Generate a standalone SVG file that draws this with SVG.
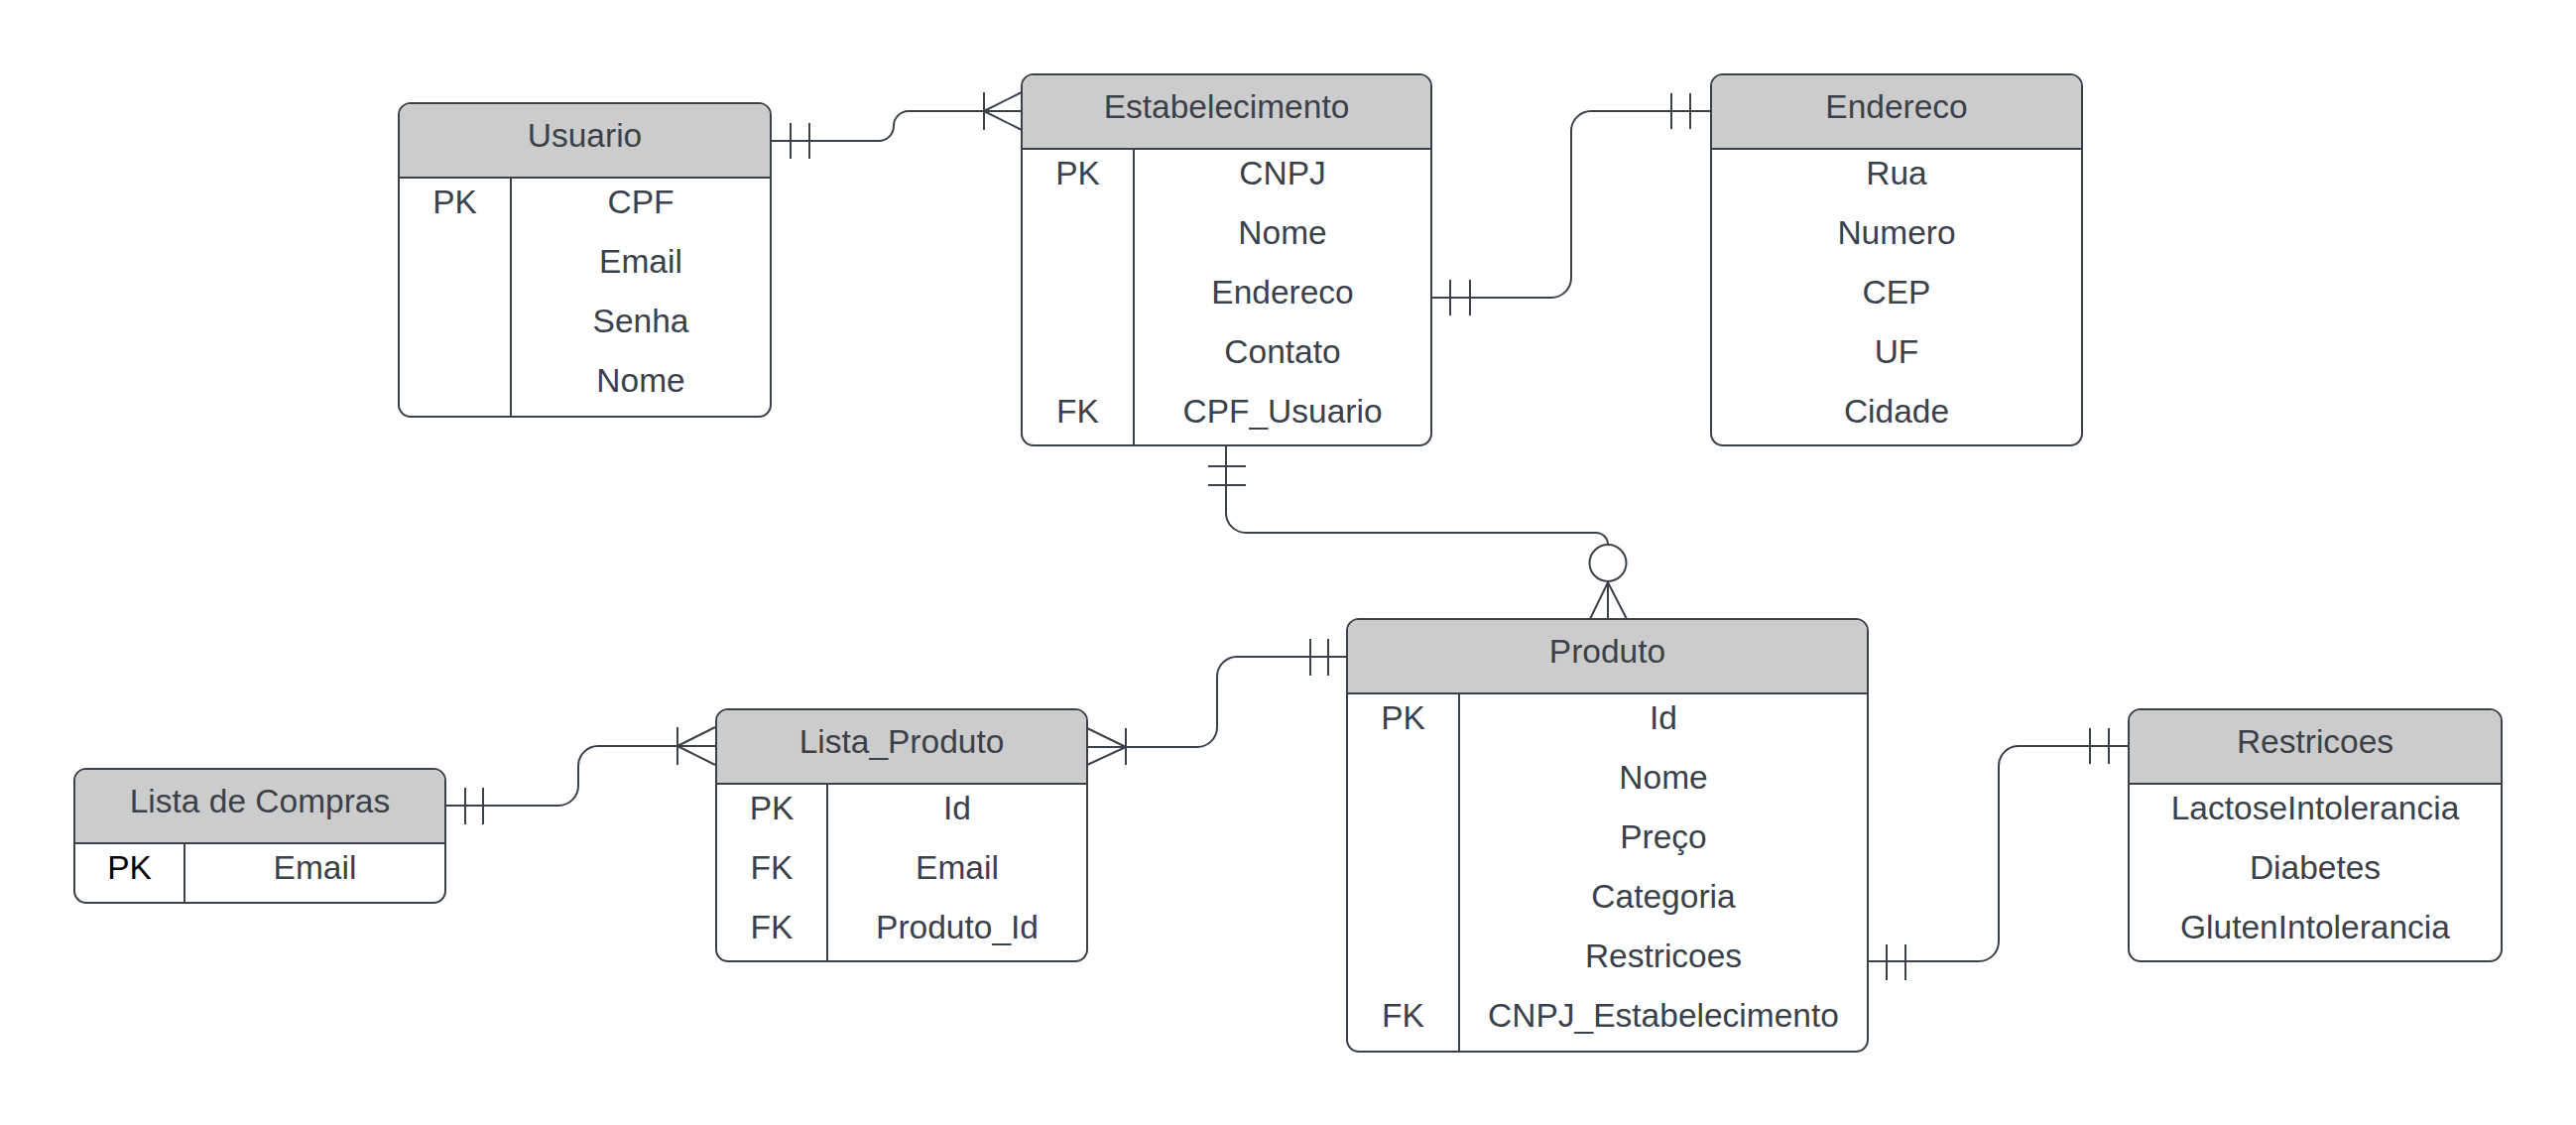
<svg xmlns="http://www.w3.org/2000/svg" width="2597" height="1134" viewBox="0 0 2597 1134">
<style>
.box{fill:#ffffff;stroke:#3a414a;stroke-width:2}
.hdr{fill:#cccccc;stroke:none}
.ln{fill:none;stroke:#3a414a;stroke-width:2}
text{font-family:"Liberation Sans",Arial,sans-serif;font-size:33.5px;fill:#3a414a;text-anchor:middle}
.blk{fill:#000000}
</style>
<rect width="2597" height="1134" fill="#ffffff"/>

<g id="connectors" class="ln">
  <!-- Usuario - Estabelecimento -->
  <path d="M777,142 H886 A15,15 0 0 0 901,127 A15,15 0 0 1 916,112 H1030"/>
  <path d="M797,124 V160 M816,124 V160"/>
  <path d="M992,93 V131 M992,112 L1030,93 M992,112 L1030,131"/>
  <!-- Estabelecimento.Endereco - Endereco -->
  <path d="M1443,300 H1564 A20,20 0 0 0 1584,280 V132 A20,20 0 0 1 1604,112 H1725"/>
  <path d="M1462,282 V318 M1482,282 V318"/>
  <path d="M1685,94 V130 M1704,94 V130"/>
  <!-- Estabelecimento - Produto -->
  <path d="M1236,450 V517 A20,20 0 0 0 1256,537 H1609 A12,12 0 0 1 1621,549"/>
  <path d="M1218,470 H1256 M1218,489 H1256"/>
  <circle cx="1621" cy="567.5" r="18.5"/>
  <path d="M1621,586 V624 M1621,587 L1603,624 M1621,587 L1640,624"/>
  <!-- Lista_Produto - Produto -->
  <path d="M1096,753 H1207 A20,20 0 0 0 1227,733 V682 A20,20 0 0 1 1247,662 H1358"/>
  <path d="M1135,734 V771 M1135,753 L1096,734 M1135,753 L1096,771"/>
  <path d="M1321,644 V681 M1339,644 V681"/>
  <!-- Lista de Compras - Lista_Produto -->
  <path d="M449,812 H563 A20,20 0 0 0 583,792 V772 A20,20 0 0 1 603,752 H721"/>
  <path d="M469,794 V831 M487,794 V831"/>
  <path d="M683,733 V771 M683,752 L721,733 M683,752 L721,771"/>
  <!-- Produto.Restricoes - Restricoes -->
  <path d="M1883,969 H1995 A20,20 0 0 0 2015,949 V772 A20,20 0 0 1 2035,752 H2146"/>
  <path d="M1902,952 V988 M1921,952 V988"/>
  <path d="M2107,734 V770 M2126,734 V770"/>
</g>

<g id="usuario">
  <rect class="box" x="402" y="104" width="375" height="316" rx="12"/>
  <path class="hdr" d="M414,105 H765 A11,11 0 0 1 776,116 V179 H403 V116 A11,11 0 0 1 414,105 Z"/>
  <path class="ln" d="M402,179 H777 M515,179 V420"/>
  <text x="589.5" y="148">Usuario</text>
  <text x="458.5" y="215">PK</text>
  <text x="646" y="215">CPF</text>
  <text x="646" y="275">Email</text>
  <text x="646" y="335">Senha</text>
  <text x="646" y="395">Nome</text>
</g>

<g id="estabelecimento">
  <rect class="box" x="1030" y="75" width="413" height="374" rx="12"/>
  <path class="hdr" d="M1042,76 H1431 A11,11 0 0 1 1442,87 V150 H1031 V87 A11,11 0 0 1 1042,76 Z"/>
  <path class="ln" d="M1030,150 H1443 M1143,150 V449"/>
  <text x="1236.5" y="119">Estabelecimento</text>
  <text x="1086.5" y="186">PK</text>
  <text x="1293" y="186">CNPJ</text>
  <text x="1293" y="246">Nome</text>
  <text x="1293" y="306">Endereco</text>
  <text x="1293" y="366">Contato</text>
  <text x="1086.5" y="426">FK</text>
  <text x="1293" y="426">CPF_Usuario</text>
</g>

<g id="endereco">
  <rect class="box" x="1725" y="75" width="374" height="374" rx="12"/>
  <path class="hdr" d="M1737,76 H2087 A11,11 0 0 1 2098,87 V150 H1726 V87 A11,11 0 0 1 1737,76 Z"/>
  <path class="ln" d="M1725,150 H2099"/>
  <text x="1912" y="119">Endereco</text>
  <text x="1912" y="186">Rua</text>
  <text x="1912" y="246">Numero</text>
  <text x="1912" y="306">CEP</text>
  <text x="1912" y="366">UF</text>
  <text x="1912" y="426">Cidade</text>
</g>

<g id="produto">
  <rect class="box" x="1358" y="624" width="525" height="436" rx="12"/>
  <path class="hdr" d="M1370,625 H1871 A11,11 0 0 1 1882,636 V699 H1359 V636 A11,11 0 0 1 1370,625 Z"/>
  <path class="ln" d="M1358,699 H1883 M1471,699 V1060"/>
  <text x="1620.5" y="668">Produto</text>
  <text x="1414.5" y="735">PK</text>
  <text x="1677" y="735">Id</text>
  <text x="1677" y="795">Nome</text>
  <text x="1677" y="855">Preço</text>
  <text x="1677" y="915">Categoria</text>
  <text x="1677" y="975">Restricoes</text>
  <text x="1414.5" y="1035">FK</text>
  <text x="1677" y="1035">CNPJ_Estabelecimento</text>
</g>

<g id="lista_produto">
  <rect class="box" x="722" y="715" width="374" height="254" rx="12"/>
  <path class="hdr" d="M734,716 H1084 A11,11 0 0 1 1095,727 V790 H723 V727 A11,11 0 0 1 734,716 Z"/>
  <path class="ln" d="M722,790 H1096 M834,790 V969"/>
  <text x="909" y="759">Lista_Produto</text>
  <text x="778" y="826">PK</text>
  <text x="965" y="826">Id</text>
  <text x="778" y="886">FK</text>
  <text x="965" y="886">Email</text>
  <text x="778" y="946">FK</text>
  <text x="965" y="946">Produto_Id</text>
</g>

<g id="lista_de_compras">
  <rect class="box" x="75" y="775" width="374" height="135" rx="12"/>
  <path class="hdr" d="M87,776 H437 A11,11 0 0 1 448,787 V850 H76 V787 A11,11 0 0 1 87,776 Z"/>
  <path class="ln" d="M75,850 H449 M186,850 V910"/>
  <text x="262" y="819">Lista de Compras</text>
  <text class="blk" x="130.5" y="886">PK</text>
  <text x="317.5" y="886">Email</text>
</g>

<g id="restricoes">
  <rect class="box" x="2146" y="715" width="376" height="254" rx="12"/>
  <path class="hdr" d="M2158,716 H2510 A11,11 0 0 1 2521,727 V790 H2147 V727 A11,11 0 0 1 2158,716 Z"/>
  <path class="ln" d="M2146,790 H2522"/>
  <text x="2334" y="759">Restricoes</text>
  <text x="2334" y="826">LactoseIntolerancia</text>
  <text x="2334" y="886">Diabetes</text>
  <text x="2334" y="946">GlutenIntolerancia</text>
</g>
</svg>
